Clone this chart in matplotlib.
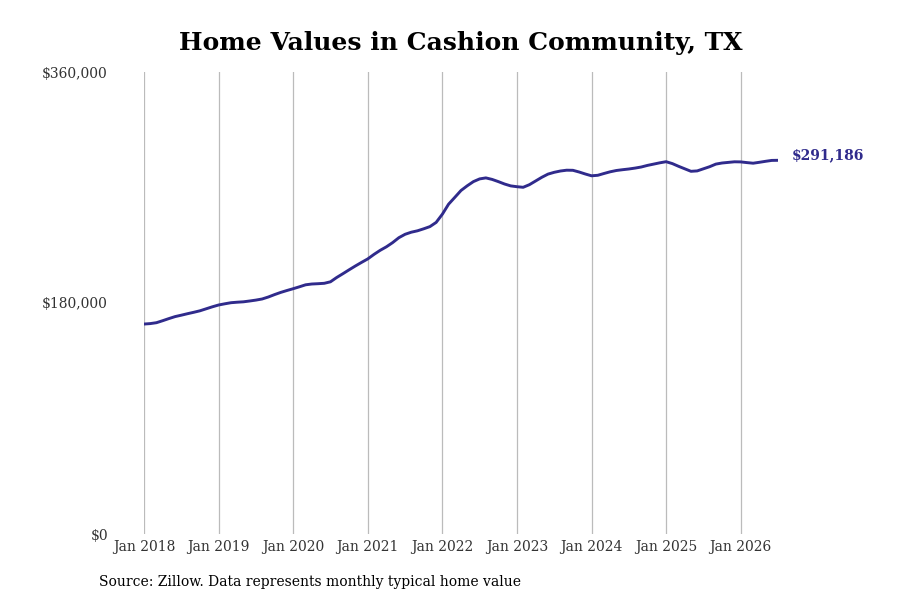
import matplotlib.pyplot as plt
import numpy as np

plt.rcParams['font.family'] = ['DejaVu Serif']

# monthly typical home value, Jan 2018 .. Jul 2026
values = [
    163600, 163950, 164650, 166200, 167850, 169400, 170500, 171660, 172750, 173920, 175480, 177040,
    178440, 179380, 180230, 180620, 180930, 181560, 182260, 183120, 184670, 186540, 188260, 189740,
    191140, 192620, 194180, 194800, 195040, 195350, 196520, 199870, 202830, 205870, 208830, 211640,
    214360, 217870, 221060, 223790, 227060, 230880, 233530, 235170, 236260, 237820, 239530, 242800,
    249190, 256990, 262290, 267660, 271320, 274600, 276700, 277480, 276310, 274600, 272730, 271250,
    270620, 270160, 272180, 275060, 277950, 280440, 281840, 282860, 283480, 283400, 282080, 280520,
    279120, 279510, 280910, 282240, 283250, 283870, 284420, 285120, 285970, 287220, 288230, 289250,
    290100, 288630, 286520, 284570, 282620, 282930, 284570, 286200, 288230, 289090, 289560, 290030,
    289950, 289400, 288930, 289640, 290410, 291110, 291186,
]
years = list(range(2018, 2027))
tick_labels = ['Jan %d' % y for y in years]
y_ticks = [0, 180000, 360000]
y_labels = ['$0', '$180,000', '$360,000']

line_color = '#302b8c'

fig = plt.figure(figsize=(9, 6), dpi=100)
ax = fig.add_axes([144 / 900, 66 / 600, 634 / 900, 462 / 600])

months = np.arange(len(values))
ax.plot(months, values, color=line_color, linewidth=2.1, solid_capstyle='round')

ax.set_xlim(0, len(values) - 1)
ax.set_ylim(0, 360000)

ax.set_xticks([12 * i for i in range(len(years))])
ax.set_xticklabels(tick_labels, fontsize=10, color='#333333')
ax.set_yticks(y_ticks)
ax.set_yticklabels(y_labels, fontsize=10, color='#333333')
ax.tick_params(axis='both', length=0)
ax.tick_params(axis='y', pad=26)
ax.tick_params(axis='x', pad=4)

for s in ax.spines.values():
    s.set_visible(False)
ax.grid(axis='x', color='#bbbbbb', linewidth=0.9)
ax.set_axisbelow(True)

ax.annotate('$291,186', xy=(months[-1], values[-1]), xytext=(10, 4),
            textcoords='offset points', fontsize=10, fontweight='bold',
            color=line_color, va='center', ha='left', annotation_clip=False)

ax.set_title('Home Values in Cashion Community, TX', fontsize=18, fontweight='bold', pad=15.5)
fig.text(99 / 900, 1 - 582 / 600, 'Source: Zillow. Data represents monthly typical home value',
         fontsize=10, va='center', ha='left')

fig.savefig('out.png', dpi=100)
